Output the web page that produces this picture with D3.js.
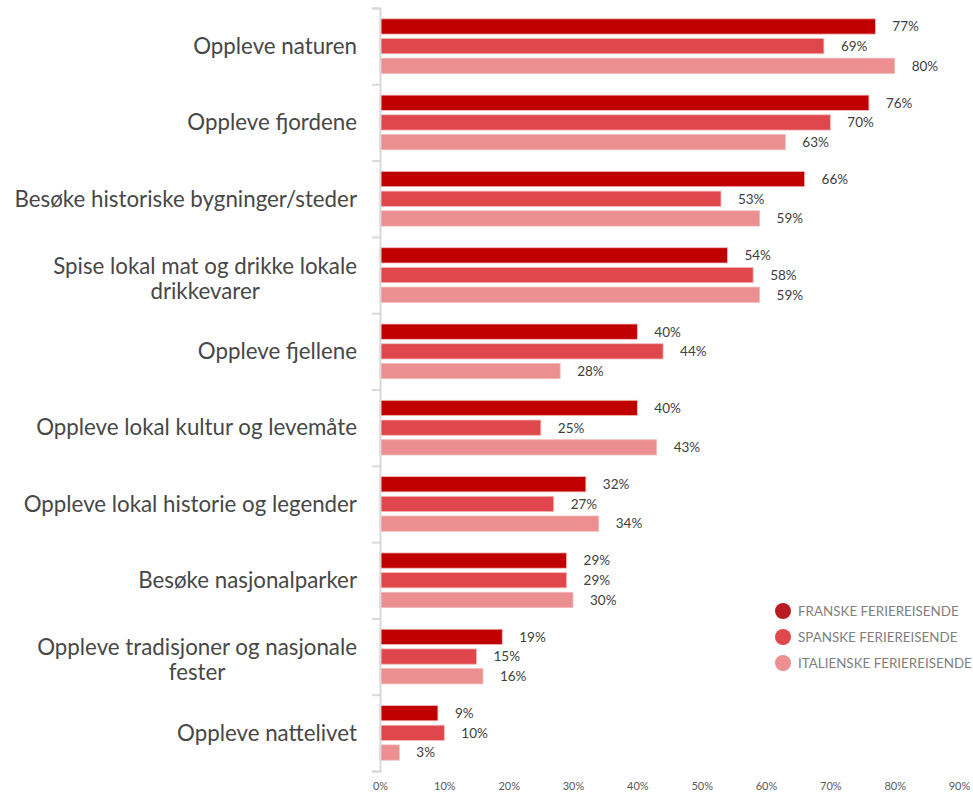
<!DOCTYPE html>
<html>
<head>
<meta charset="utf-8">
<script src="https://cdn.jsdelivr.net/npm/d3@7"></script>
<style>
  body { margin: 0; background: #fff; }
  svg { display: block; }
  text { font-family: Lato, "Open Sans", sans-serif; }
</style>
</head>
<body>
<div id="chart"></div>
<script>
(function(){
	var width = 973,
	    height = 794;

	// categories, top to bottom (second entry is the wrapped line, if any)
	var categories = [
		["Oppleve naturen"],
		["Oppleve fjordene"],
		["Besøke historiske bygninger/steder"],
		["Spise lokal mat og drikke lokale", "drikkevarer"],
		["Oppleve fjellene"],
		["Oppleve lokal kultur og levemåte"],
		["Oppleve lokal historie og legender"],
		["Besøke nasjonalparker"],
		["Oppleve tradisjoner og nasjonale", "fester"],
		["Oppleve nattelivet"]
	];

	var seriesNames = ["FRANSKE FERIEREISENDE", "SPANSKE FERIEREISENDE", "ITALIENSKE FERIEREISENDE"];

	var franske    = [77, 76, 66, 54, 40, 40, 32, 29, 19, 9];
	var spanske    = [69, 70, 53, 58, 44, 25, 27, 29, 15, 10];
	var italienske = [80, 63, 59, 59, 28, 43, 34, 30, 16, 3];

	var xTicks = [0, 10, 20, 30, 40, 50, 60, 70, 80, 90];

	var barColors    = ["#c00000", "#e0474c", "#eb8f91"];
	var legendColors = ["#b81c22", "#e0474c", "#eb8f91"];

	var values = [franske, spanske, italienske];

	var svg = d3.select("#chart")
	  .append("svg")
	  .attr("width", width)
	  .attr("height", height);

	// x goes from 0% at the axis to 90% at the right edge
	var x = d3.scaleLinear().domain([0, 90]).range([380, 959]);

	var y = d3.scaleBand()
	  .domain(d3.range(categories.length))
	  .range([8, 771])
	  .padding(0);

	var ySub = d3.scaleBand()
	  .domain(d3.range(seriesNames.length))
	  .range([0, y.bandwidth()])
	  .paddingInner(0.225)
	  .paddingOuter(0.55);

	// bars, one group per category
	var groups = svg.selectAll(".cat")
	  .data(categories)
	  .enter().append("g")
	  .attr("class", "cat")
	  .attr("transform", function(d, i) { return "translate(0," + y(i) + ")"; });

	groups.selectAll("rect")
	  .data(function(d, i) { return values.map(function(s) { return s[i]; }); })
	  .enter().append("rect")
	  .attr("x", x(0))
	  .attr("y", function(d, j) { return ySub(j); })
	  .attr("width", function(d) { return x(d) - x(0); })
	  .attr("height", ySub.bandwidth())
	  .attr("fill", function(d, j) { return barColors[j]; })
	  .attr("stroke", "#f2b8b8")
	  .attr("stroke-width", 0.8);

	groups.selectAll(".val")
	  .data(function(d, i) { return values.map(function(s) { return s[i]; }); })
	  .enter().append("text")
	  .attr("class", "val")
	  .attr("x", function(d) { return x(d) + 17; })
	  .attr("y", function(d, j) { return ySub(j) + ySub.bandwidth() / 2; })
	  .attr("dy", "0.36em")
	  .attr("font-size", 13.5)
	  .attr("fill", "#404040")
	  .text(function(d) { return d + "%"; });

	// y axis line with ticks at band edges
	var yAxis = d3.axisLeft(d3.scaleLinear().domain([0, categories.length]).range([8, 771]))
	  .tickValues(d3.range(categories.length + 1))
	  .tickSize(8)
	  .tickFormat("");

	var gy = svg.append("g")
	  .attr("transform", "translate(" + x(0) + ",0)")
	  .call(yAxis);
	gy.select(".domain").attr("stroke", "#d9d9d9").attr("stroke-width", 2);
	gy.selectAll(".tick line").attr("stroke", "#d9d9d9").attr("stroke-width", 2);

	// category labels
	svg.selectAll(".catlabel")
	  .data(categories)
	  .enter().append("text")
	  .attr("class", "catlabel")
	  .attr("font-size", 22.3)
	  .attr("fill", "#474747")
	  .each(function(d, i) {
		var t = d3.select(this);
		var cy = y(i) + y.bandwidth() / 2;
		if (d.length === 1) {
			t.attr("x", 357).attr("y", cy).attr("dy", "0.35em")
			  .attr("text-anchor", "end").text(d[0]);
		} else {
			var first = t.append("tspan").attr("text-anchor", "end")
			  .attr("x", 357).attr("y", cy - 9).attr("dy", "0.35em").text(d[0]);
			var w = first.node().getComputedTextLength();
			t.append("tspan").attr("text-anchor", "middle")
			  .attr("x", 357 - w / 2).attr("y", cy + 16).attr("dy", "0.35em").text(d[1]);
		}
	  });

	// x axis labels only
	var xAxis = d3.axisBottom(x)
	  .tickValues(xTicks)
	  .tickSize(0)
	  .tickPadding(0)
	  .tickFormat(function(d) { return d + "%"; });

	var gx = svg.append("g")
	  .attr("transform", "translate(0,782)")
	  .call(xAxis);
	gx.select(".domain").remove();
	gx.selectAll("text")
	  .attr("font-family", "Lato, 'Open Sans', sans-serif")
	  .attr("font-size", 11)
	  .attr("fill", "#595959");

	// legend
	var legend = svg.selectAll(".legend")
	  .data(seriesNames)
	  .enter().append("g")
	  .attr("class", "legend")
	  .attr("transform", function(d, i) { return "translate(783," + (611 + i * 26) + ")"; });

	legend.append("circle")
	  .attr("r", 8)
	  .attr("fill", function(d, i) { return legendColors[i]; });

	legend.append("text")
	  .attr("x", 15)
	  .attr("dy", "0.36em")
	  .attr("font-size", 13.4)
	  .attr("fill", "#7f7f7f")
	  .text(function(d) { return d; });
})();
</script>
</body>
</html>
